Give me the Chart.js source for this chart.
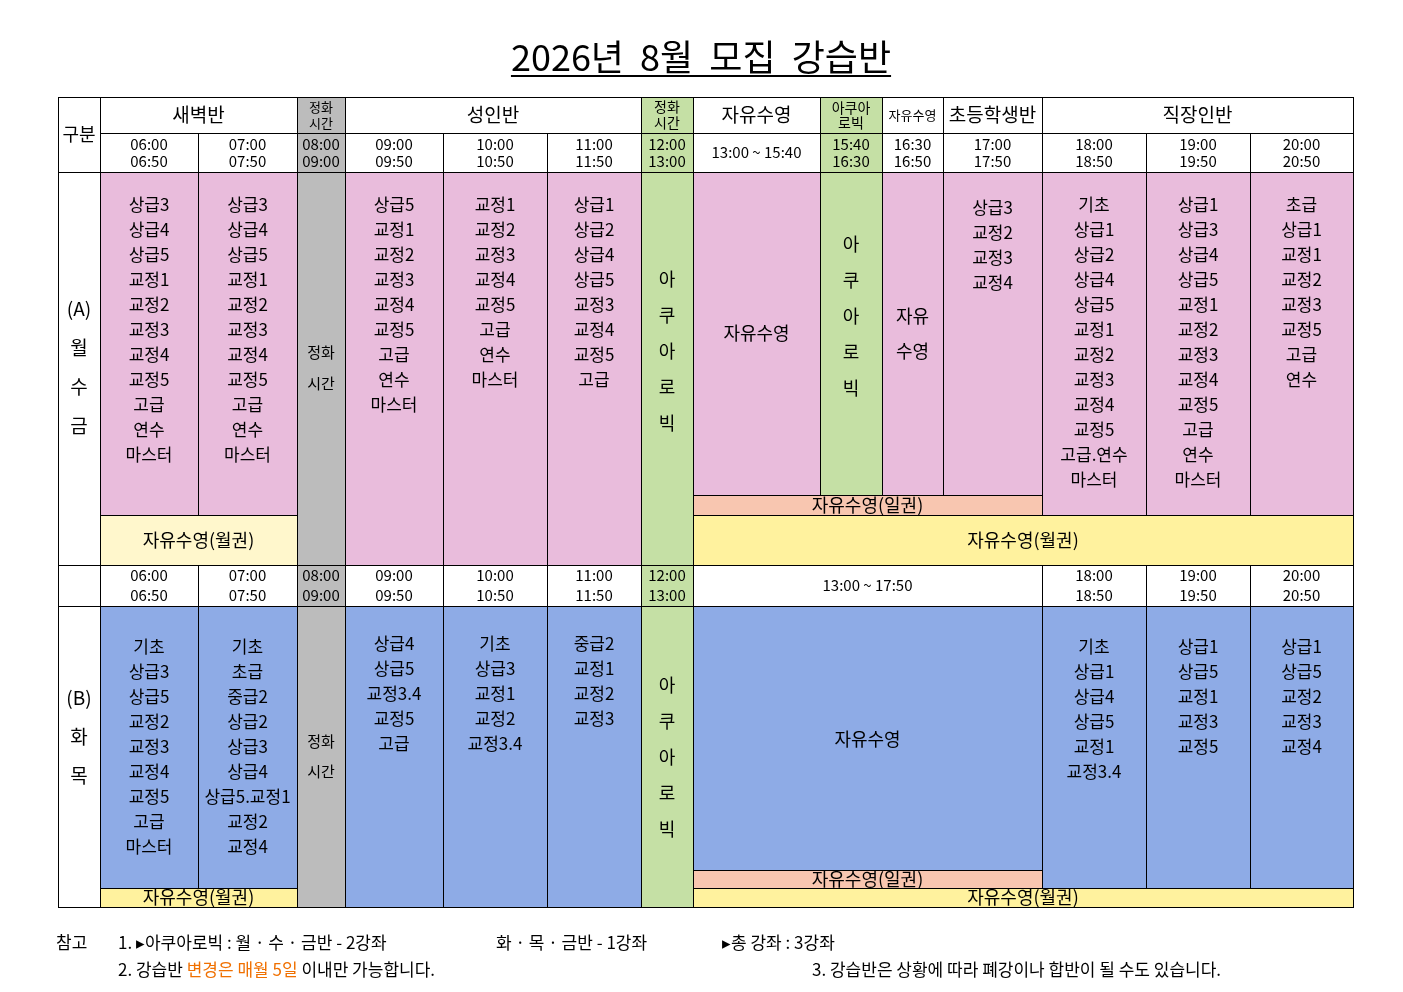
<!DOCTYPE html>
<html><head><meta charset="utf-8">
<script src="https://cdn.jsdelivr.net/npm/chart.js@4"></script>
<style>html,body{margin:0;background:#fff}#w{width:1403px;height:992px}</style>
</head><body><div id="w"><canvas id="c"></canvas></div>
<script>
// ---- data ----
const title = "2026년  8월  모집  강습반";
const groupHeaders = ["새벽반","성인반","자유수영","자유수영","초등학생반","직장인반"];
const timesA = ["06:00\n06:50","07:00\n07:50","08:00\n09:00","09:00\n09:50","10:00\n10:50","11:00\n11:50","12:00\n13:00","13:00 ~ 15:40","15:40\n16:30","16:30\n16:50","17:00\n17:50","18:00\n18:50","19:00\n19:50","20:00\n20:50"];
const timesB = ["06:00\n06:50","07:00\n07:50","08:00\n09:00","09:00\n09:50","10:00\n10:50","11:00\n11:50","12:00\n13:00","13:00 ~ 17:50","18:00\n18:50","19:00\n19:50","20:00\n20:50"];
const classesA = [
 ["상급3","상급4","상급5","교정1","교정2","교정3","교정4","교정5","고급","연수","마스터"],
 ["상급3","상급4","상급5","교정1","교정2","교정3","교정4","교정5","고급","연수","마스터"],
 ["상급5","교정1","교정2","교정3","교정4","교정5","고급","연수","마스터"],
 ["교정1","교정2","교정3","교정4","교정5","고급","연수","마스터"],
 ["상급1","상급2","상급4","상급5","교정3","교정4","교정5","고급"],
 ["상급3","교정2","교정3","교정4"],
 ["기초","상급1","상급2","상급4","상급5","교정1","교정2","교정3","교정4","교정5","고급.연수","마스터"],
 ["상급1","상급3","상급4","상급5","교정1","교정2","교정3","교정4","교정5","고급","연수","마스터"],
 ["초급","상급1","교정1","교정2","교정3","교정5","고급","연수"]
];
const classesB = [
 ["기초","상급3","상급5","교정2","교정3","교정4","교정5","고급","마스터"],
 ["기초","초급","중급2","상급2","상급3","상급4","상급5.교정1","교정2","교정4"],
 ["상급4","상급5","교정3.4","교정5","고급"],
 ["기초","상급3","교정1","교정2","교정3.4"],
 ["중급2","교정1","교정2","교정3"],
 ["기초","상급1","상급4","상급5","교정1","교정3.4"],
 ["상급1","상급5","교정1","교정3","교정5"],
 ["상급1","상급5","교정2","교정3","교정4"]
];
const aqua = ["아","쿠","아","로","빅"];
const dayA = ["(A)","월","수","금"], dayB = ["(B)","화","목"];
const labels = {free:"자유수영", monthly:"자유수영(월권)", daily:"자유수영(일권)", clean:["정화","시간"], aquaHdr:["아쿠아","로빅"], free2:["자유","수영"], gubun:"구분"};
const notes1 = ["참고","1. ▸아쿠아로빅 : 월 · 수 · 금반 - 2강좌","화 · 목 · 금반 - 1강좌","▸총 강좌 : 3강좌"];
const notes2 = ["2. 강습반 ","변경은 매월 5일"," 이내만 가능합니다.","3. 강습반은 상황에 따라 폐강이나 합반이 될 수도 있습니다."];

// ---- layout ----
const X=[58,100,198,297,345,443,547,641,693,820,882,943,1042,1146,1250,1353];
const Y=[97,133,172,495,515,565,606,870,888,907];
const C={pink:"#e9bcdc",gray:"#bcbcbc",green:"#c5e0a5",ly:"#fff7cc",yel:"#fff29e",sal:"#f8c6b0",blue:"#8eabe6",w:"#ffffff"};
const F='"Noto Sans CJK KR","Noto Sans",sans-serif';

const tablePlugin={id:"tbl",afterDraw(ch){
 const ctx=ch.ctx,sx=ch.scales.x,sy=ch.scales.y;
 const px=v=>sx.getPixelForValue(v), py=v=>sy.getPixelForValue(v);
 function rect(x0,x1,y0,y1,fill){ctx.fillStyle=fill;ctx.fillRect(px(x0),py(y0),px(x1)-px(x0),py(y1)-py(y0));ctx.strokeStyle="#000";ctx.lineWidth=1;ctx.strokeRect(px(x0)+.5,py(y0)+.5,px(x1)-px(x0),py(y1)-py(y0));}
 function txt(lines,cx,y,sp,size){ctx.fillStyle="#000";ctx.font=(size||17)+"px "+F;ctx.textAlign="center";ctx.textBaseline="middle";lines.forEach((l,i)=>ctx.fillText(l,px(cx),py(y+i*sp)));}
 function cell(i,j,y0,y1,fill,lines,ty,sp,size){rect(X[i],X[j],y0,y1,fill);if(lines){if(ty==null){const n=lines.length;ty=(y0+y1)/2-(n-1)*sp/2;}txt(lines,(X[i]+X[j])/2,ty,sp,size);}}
 const sp=(s)=>String(s).split("\n");
 // header row 1
 cell(0,1,Y[0],Y[2],C.w,[labels.gubun],null,20,18);
 cell(1,3,Y[0],Y[1],C.w,[groupHeaders[0]],null,20,19);
 cell(3,4,Y[0],Y[1],C.gray,labels.clean,null,16,13);
 cell(4,7,Y[0],Y[1],C.w,[groupHeaders[1]],null,20,19);
 cell(7,8,Y[0],Y[1],C.green,labels.clean,null,16,14);
 cell(8,9,Y[0],Y[1],C.w,[groupHeaders[2]],null,20,19);
 cell(9,10,Y[0],Y[1],C.green,labels.aquaHdr,null,15,14);
 cell(10,11,Y[0],Y[1],C.w,[groupHeaders[3]],null,20,13);
 cell(11,12,Y[0],Y[1],C.w,[groupHeaders[4]],null,20,19);
 cell(12,15,Y[0],Y[1],C.w,[groupHeaders[5]],null,20,19);
 // row 2 times
 const t2cols=[[1,2],[2,3],[3,4],[4,5],[5,6],[6,7],[7,8],[8,9],[9,10],[10,11],[11,12],[12,13],[13,14],[14,15]];
 t2cols.forEach(([a,b],k)=>{const f=(a===3)?C.gray:(a===7||a===9)?C.green:C.w;cell(a,b,Y[1],Y[2],f,sp(timesA[k]),null,17,15);});
 // body A
 cell(0,1,Y[2],Y[5],C.w,dayA,309,39,19);
 cell(1,2,Y[2],Y[4],C.pink,classesA[0],205,25);
 cell(2,3,Y[2],Y[4],C.pink,classesA[1],205,25);
 cell(1,3,Y[4],Y[5],C.ly,[labels.monthly],null,20,18);
 cell(3,4,Y[2],Y[9],C.gray);
 txt(labels.clean,(X[3]+X[4])/2,352,31,15);
 txt(labels.clean,(X[3]+X[4])/2,741,30,15);
 cell(4,5,Y[2],Y[5],C.pink,classesA[2],205,25);
 cell(5,6,Y[2],Y[5],C.pink,classesA[3],205,25);
 cell(6,7,Y[2],Y[5],C.pink,classesA[4],205,25);
 cell(7,8,Y[2],Y[5],C.green,aqua,279,36,18);
 cell(8,9,Y[2],Y[3],C.pink,[labels.free],333,25,18);
 cell(9,10,Y[2],Y[3],C.green,aqua,244,36,18);
 cell(10,11,Y[2],Y[3],C.pink,labels.free2,316,35,18);
 cell(11,12,Y[2],Y[3],C.pink,classesA[5],208,25);
 cell(8,12,Y[3],Y[4],C.sal,[labels.daily],null,20,18);
 cell(12,13,Y[2],Y[4],C.pink,classesA[6],205,25);
 cell(13,14,Y[2],Y[4],C.pink,classesA[7],205,25);
 cell(14,15,Y[2],Y[4],C.pink,classesA[8],205,25);
 cell(8,15,Y[4],Y[5],C.yel,[labels.monthly],null,20,18);
 // row times B
 cell(0,1,Y[5],Y[6],C.w);
 const tb=[[1,2],[2,3],[3,4],[4,5],[5,6],[6,7],[7,8],[8,12],[12,13],[13,14],[14,15]];
 tb.forEach(([a,b],k)=>{const f=(a===3)?C.gray:(a===7)?C.green:C.w;cell(a,b,Y[5],Y[6],f,sp(timesB[k]),null,20,15);});
 // body B
 cell(0,1,Y[6],Y[9],C.w,dayB,698,39,19);
 cell(1,2,Y[6],Y[8],C.blue,classesB[0],647,25);
 cell(2,3,Y[6],Y[8],C.blue,classesB[1],647,25);
 cell(1,3,Y[8],Y[9],C.yel,[labels.monthly],null,20,18);
 cell(3,4,Y[6],Y[9],C.gray);
 txt(labels.clean,(X[3]+X[4])/2,741,30,15);
 cell(4,5,Y[6],Y[9],C.blue,classesB[2],644,25);
 cell(5,6,Y[6],Y[9],C.blue,classesB[3],644,25);
 cell(6,7,Y[6],Y[9],C.blue,classesB[4],644,25);
 cell(7,8,Y[6],Y[9],C.green,aqua,685,36,18);
 cell(8,12,Y[6],Y[7],C.blue,[labels.free],739,25,18);
 cell(8,12,Y[7],Y[8],C.sal,[labels.daily],null,20,18);
 cell(12,13,Y[6],Y[8],C.blue,classesB[5],647,25);
 cell(13,14,Y[6],Y[8],C.blue,classesB[6],647,25);
 cell(14,15,Y[6],Y[8],C.blue,classesB[7],647,25);
 cell(8,15,Y[8],Y[9],C.yel,[labels.monthly],null,20,18);
 // title
 ctx.fillStyle="#000";ctx.font="36px "+F;ctx.textAlign="center";ctx.textBaseline="middle";
 ctx.fillText(title,px(701),py(57));
 const tw=ctx.measureText(title).width;ctx.fillRect(px(701)-tw/2,py(75),tw,2);
 // notes
 ctx.font="17px "+F;ctx.textAlign="left";
 ctx.fillText(notes1[0],px(56),py(943));ctx.fillText(notes1[1],px(118),py(943));
 ctx.fillText(notes1[2],px(496),py(943));ctx.fillText(notes1[3],px(722),py(943));
 let x=px(118);ctx.fillText(notes2[0],x,py(970));x+=ctx.measureText(notes2[0]).width;
 ctx.fillStyle="#f07000";ctx.fillText(notes2[1],x,py(970));x+=ctx.measureText(notes2[1]).width;
 ctx.fillStyle="#000";ctx.fillText(notes2[2],x,py(970));
 ctx.fillText(notes2[3],px(812),py(970));
}};

new Chart(document.getElementById("c"),{type:"scatter",data:{datasets:[{data:[]}]},
 options:{responsive:true,maintainAspectRatio:false,animation:false,
  layout:{padding:0},
  plugins:{legend:{display:false},tooltip:{enabled:false}},
  scales:{x:{type:"linear",min:0,max:1403,display:false},y:{type:"linear",min:0,max:992,reverse:true,display:false}}},
 plugins:[tablePlugin]});
</script></body></html>
